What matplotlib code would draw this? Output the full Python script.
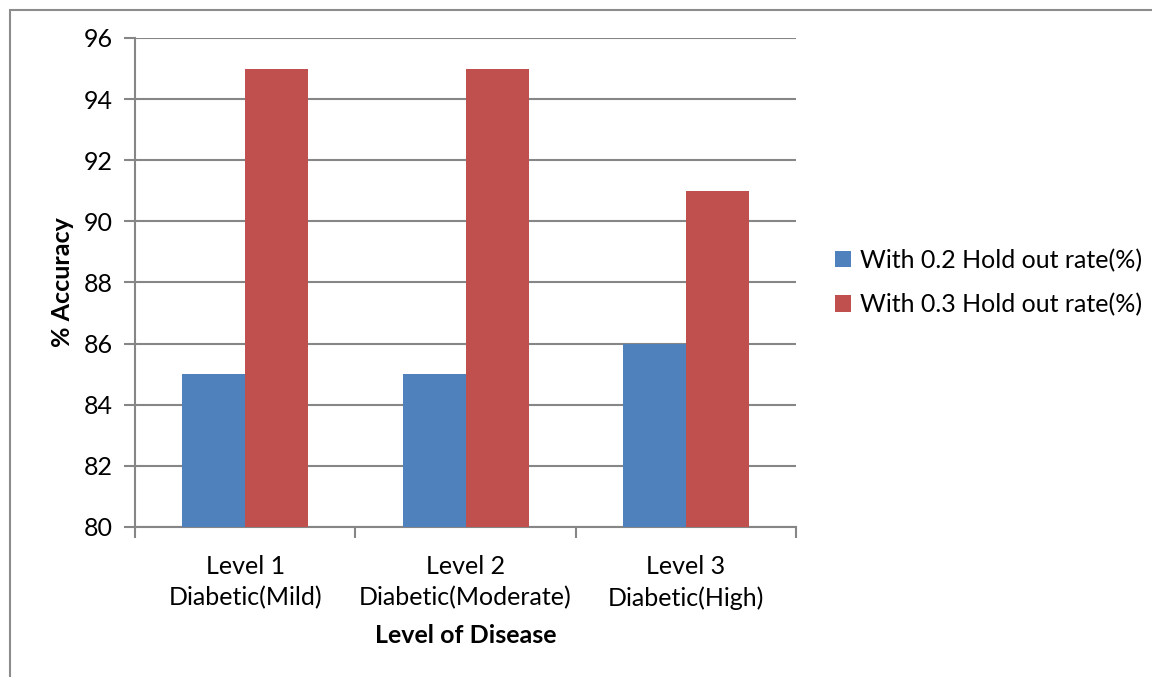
import numpy as np
import matplotlib.pyplot as plt
from matplotlib.patches import Rectangle

plt.rcParams['font.family'] = ['Lato', 'DejaVu Sans']

levels = ["Level 1\nDiabetic(Mild)", "Level 2\nDiabetic(Moderate)", "Level 3\nDiabetic(High)"]
holdout_02 = [85, 85, 86]
holdout_03 = [95, 95, 91]
series_names = ["With 0.2 Hold out rate(%)", "With 0.3 Hold out rate(%)"]

blue = "#4F81BD"
red = "#C0504D"
grid_c = "#868686"

fig = plt.figure(figsize=(11.52, 6.77), dpi=100)
ax = fig.add_axes([0.1172, 0.2216, 0.5738, 0.7223])

# outer chart frame
fig.patches.append(Rectangle((10 / 1152, -0.05), 1.2, 1 - 10 / 677 + 0.05,
                             transform=fig.transFigure, fill=False,
                             edgecolor="#8c8c8c", linewidth=1.5))

x = np.arange(len(levels))
w = 0.286
ax.bar(x - w / 2, holdout_02, w, color=blue, label=series_names[0], zorder=3)
ax.bar(x + w / 2, holdout_03, w, color=red, label=series_names[1], zorder=3)

ax.set_ylim(80, 96)
ax.set_xlim(-0.5, 2.5)
ax.set_yticks(np.arange(80, 97, 2))
ax.yaxis.grid(True, color=grid_c, linewidth=1.5, zorder=0)

ax.set_xticks(x)
ax.set_xticklabels(levels, fontsize=18, linespacing=1.45)
ax.set_xticks([-0.5, 0.5, 1.5, 2.5], minor=True)
ax.tick_params(axis="x", which="major", length=0, pad=20)
ax.tick_params(axis="x", which="minor", length=8, width=1.5, color=grid_c)
ax.tick_params(axis="y", labelsize=18, length=8, width=1.5, color=grid_c, pad=8)

for s in ["top", "right"]:
    ax.spines[s].set_visible(False)
for s in ["left", "bottom"]:
    ax.spines[s].set_color(grid_c)
    ax.spines[s].set_linewidth(1.5)

ax.set_ylabel("% Accuracy", fontsize=18, fontweight="bold", labelpad=7)
ax.set_xlabel("Level of Disease", fontsize=18, fontweight="bold", labelpad=10)

ax.legend(loc="center left", bbox_to_anchor=(1.025, 0.5), frameon=False,
          fontsize=18, handlelength=0.65, handleheight=0.65, handletextpad=0.35,
          labelspacing=0.85)

fig.savefig("out.png", dpi=100)
